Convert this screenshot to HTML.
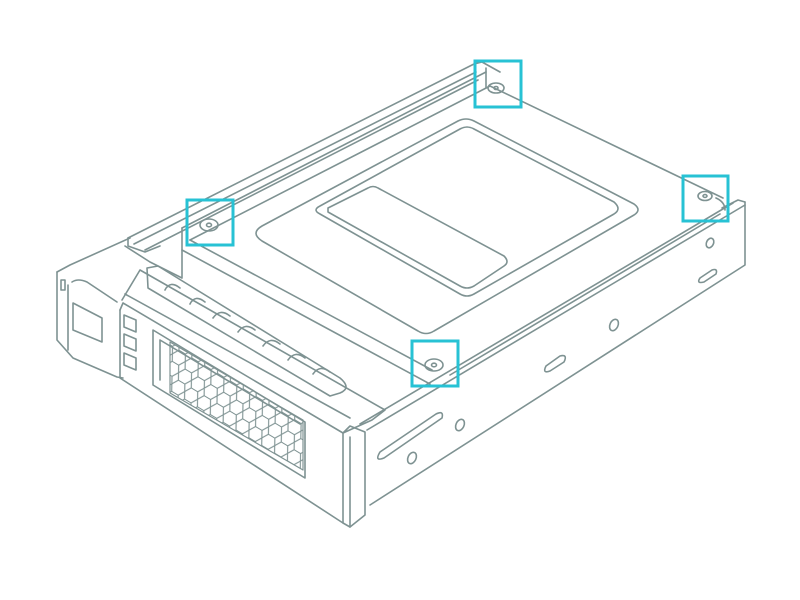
<!DOCTYPE html>
<html><head><style>html,body{margin:0;padding:0;background:#fff}svg{display:block}</style></head>
<body>
<svg width="800" height="600" viewBox="0 0 800 600" xmlns="http://www.w3.org/2000/svg">
<defs>
<pattern id="hex" width="15" height="13" patternUnits="userSpaceOnUse" patternTransform="rotate(31)">
<path d="M0,6.5 L3.75,0 L11.25,0 L15,6.5 L11.25,13 L3.75,13 Z" fill="none" stroke="#7e9292" stroke-width="1.1"/>
</pattern>
<clipPath id="gc"><path d="M170,342 L303,420 L303,470 L170,393 Z"/></clipPath>
</defs>
<g fill="none" stroke="#7e9292" stroke-width="1.6" stroke-linejoin="round" stroke-linecap="round">
<path d="M128,238 L474,64 L482,62 L500,72"/>
<path d="M134,244 L476,72"/>
<path d="M145,250 L478,80"/>
<path d="M128,238 L128,246 L145,252 L160,246"/>
<path d="M182,228 L486,72"/>
<path d="M190,240 L490,86 L723,198"/>
<path d="M190,240 L432,370"/>
<path d="M182,250 L430,384"/>
<path d="M182,228 L182,277"/>
<path d="M450,375 L720,214"/>
<path d="M262,226 L458,121 Q466,117 474,121 L634,204 Q642,210 634,215 L434,331 Q426,336 418,331 L262,241 Q250,233 262,226 Z"/>
<path d="M320,206 L460,129 Q467,125 474,129 L614,202 Q622,209 614,214 L474,294 Q467,298 460,294 L320,214 Q312,210 320,206 Z"/>
<path d="M328,208 L368,188 Q373,185 378,188 L504,256 Q510,262 504,266 L474,286 Q467,290 460,286 L328,212 Z"/>
<path d="M722,208 L738,200 L745,202"/>
<path d="M745,202 L745,265 L370,505"/>
<path d="M360,424 L733,203"/>
<path d="M367,430 L745,205"/>
<path d="M380,452 L436,414 Q444,410 442,418 L384,458 Q374,462 380,452 Z"/>
<ellipse cx="412" cy="458" rx="4" ry="6" transform="rotate(25 412 458)"/>
<ellipse cx="460" cy="425" rx="4" ry="6" transform="rotate(25 460 425)"/>
<path d="M546,366 L560,356 Q568,354 564,362 L550,371 Q542,374 546,366 Z"/>
<ellipse cx="614" cy="325" rx="4" ry="6" transform="rotate(25 614 325)"/>
<path d="M700,278 L712,270 Q718,268 716,274 L704,282 Q696,284 700,278 Z"/>
<ellipse cx="710" cy="243" rx="3.5" ry="5" transform="rotate(25 710 243)"/>
<path d="M343,433 L350,426 L365,432 L365,515 L350,527 L343,523 Z"/>
<path d="M350,437 L350,527"/>
<path d="M343,433 L123,303 L120,310"/>
<path d="M343,523 L120,378 L120,310"/>
<path d="M153,330 L305,422 L305,478 L153,385 Z"/>
<path d="M160,340 L300,424 M160,340 L160,380"/>
<path d="M170,342 L303,420 L303,470 L170,393 Z" stroke-width="1.2"/>
<path d="M122,300 L140,270 L385,410 L372,420 L343,433"/>
<path d="M125,294 L350,418"/>
<path d="M147,268 L158,266 L340,378 Q352,388 340,393 L330,396 L148,288 Z"/>
<path d="M165,290 Q170,280 180,288 M190,304 Q195,294 205,302 M213,318 Q220,308 230,316 M238,332 Q245,322 255,330 M263,346 Q270,336 280,344 M288,360 Q295,350 305,358 M313,374 Q320,364 330,372"/>
<path d="M125,246 L150,262 M150,262 L182,278"/>
<path d="M57,272 L57,340 L73,358 L117,377 L123,378"/>
<path d="M57,272 L70,265 L130,238"/>
<path d="M72,282 Q78,278 87,282 L117,302"/>
<path d="M68,285 L68,350"/>
<path d="M73,303 L102,318 L102,342 L73,330 Z"/>
<rect x="61" y="280" width="4" height="10"/>
<path d="M124,315 L136,320 L136,332 L124,327 Z M124,334 L136,339 L136,351 L124,346 Z M124,353 L136,358 L136,370 L124,365 Z"/>
<ellipse cx="209" cy="225" rx="9" ry="6"/><ellipse cx="209" cy="225" rx="2.5" ry="1.8"/>
<ellipse cx="434" cy="365" rx="9" ry="6"/><ellipse cx="434" cy="365" rx="2.5" ry="1.8"/>
<ellipse cx="496" cy="88" rx="8" ry="5"/><ellipse cx="496" cy="88" rx="2" ry="1.5"/>
<ellipse cx="705" cy="196" rx="7" ry="4.5"/><ellipse cx="705" cy="196" rx="2" ry="1.4"/>
<path d="M486,68 L486,88 M716,198 Q725,202 725,210"/>
</g>
<rect x="160" y="330" width="150" height="150" fill="url(#hex)" clip-path="url(#gc)"/>
<g fill="none" stroke="#27c2d4" stroke-width="3">
<rect x="475" y="61" width="46" height="46"/>
<rect x="683" y="176" width="45" height="45"/>
<rect x="187" y="200" width="46" height="45"/>
<rect x="412" y="341" width="46" height="45"/>
</g>
</svg>
</body></html>
